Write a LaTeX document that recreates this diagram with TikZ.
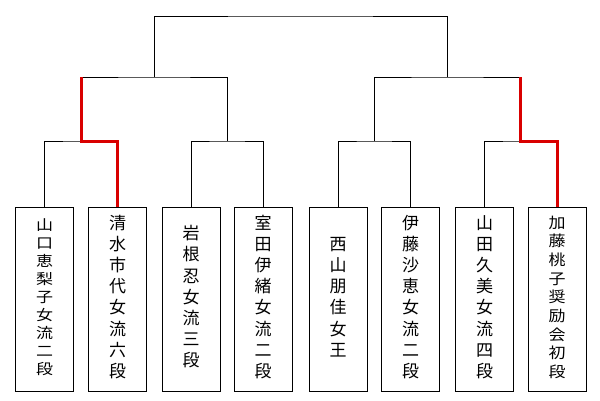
\documentclass[tikz,border=0pt]{standalone}
\usepackage{fontspec}
\usepackage{graphicx}
\newfontfamily\jp{Noto Sans CJK JP}
\newcommand{\vstack}[2][1]{\scalebox{1}[#1]{\begin{tabular}{@{}c@{}}#2\end{tabular}}}
\begin{document}
\begin{tikzpicture}[x=1pt,y=-1pt,
  line/.style={black,line width=1pt},
  win/.style={red!85!black,line width=3pt},
  player/.style={draw,line width=1pt,minimum width=58pt,minimum height=184pt,inner sep=0pt,
    font=\jp\fontsize{17}{21.2}\selectfont}]
\useasboundingbox (0,0) rectangle (600,400);
\node[player] (b1) at (44.5,299) {\vstack[0.85]{山\\口\\恵\\梨\\子\\女\\流\\二\\段}};
\node[player] (b2) at (117.5,299) {\vstack{清\\水\\市\\代\\女\\流\\六\\段}};
\node[player] (b3) at (191,299) {\vstack{岩\\根\\忍\\女\\流\\三\\段}};
\node[player] (b4) at (263,299) {\vstack{室\\田\\伊\\緒\\女\\流\\二\\段}};
\node[player] (b5) at (338,299) {\vstack{西\\山\\朋\\佳\\女\\王}};
\node[player] (b6) at (410.5,299) {\vstack{伊\\藤\\沙\\恵\\女\\流\\二\\段}};
\node[player] (b7) at (484.5,299) {\vstack{山\\田\\久\\美\\女\\流\\四\\段}};
\node[player] (b8) at (557,299) {\vstack[0.88]{加\\藤\\桃\\子\\奨\\励\\会\\初\\段}};
\coordinate (q1) at (81,141);
\coordinate (q2) at (227,141);
\coordinate (q3) at (374.25,141);
\coordinate (q4) at (520.75,141);
\coordinate (s1) at (154,77);
\coordinate (s2) at (447.5,77);
\coordinate (t) at (300,16);
\draw[line] (b1.north) |- (q1) -| (b2.north);
\draw[line] (b3.north) |- (q2) -| (b4.north);
\draw[line] (b5.north) |- (q3) -| (b6.north);
\draw[line] (b7.north) |- (q4) -| (b8.north);
\draw[line] (q1) |- (s1) -| (q2);
\draw[line] (q3) |- (s2) -| (q4);
\draw[line] (s1) |- (t) -| (s2);
\draw[win] (q1 |- s1) -- (q1) -| (b2.north);
\draw[win] (q4 |- s2) -- (q4) -| (b8.north);
\end{tikzpicture}
\end{document}
